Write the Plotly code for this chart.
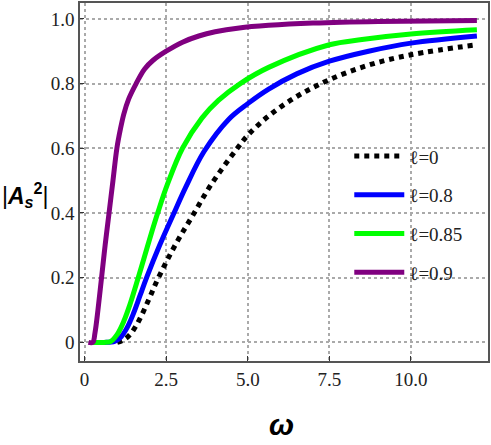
import plotly.graph_objs as go

# curves |A_s^2| vs omega
x_l0 = [1.0, 1.2, 1.4, 1.6, 1.8, 2.0, 2.24, 2.8, 3.3, 3.86, 4.64, 5.0, 5.64, 6.5, 7.5, 8.7, 10.0, 12.02]
y_l0 = [0.0, 0.008, 0.025, 0.055, 0.095, 0.14, 0.195, 0.305, 0.39, 0.485, 0.595, 0.64, 0.7, 0.76, 0.812, 0.857, 0.889, 0.92]

x_l08 = [0.3, 0.6, 0.92, 1.1, 1.3, 1.5, 1.7, 1.9, 2.3, 2.74, 3.1, 3.66, 4.42, 5.0, 5.64, 6.5, 7.5, 8.7, 10.0, 12.02]
y_l08 = [0.0, 0.0, 0.003, 0.015, 0.045, 0.09, 0.145, 0.2, 0.3, 0.4, 0.48, 0.59, 0.69, 0.738, 0.783, 0.83, 0.869, 0.9, 0.925, 0.947]

x_l085 = [0.25, 0.6, 0.8, 1.0, 1.2, 1.4, 1.63, 1.85, 2.07, 2.24, 2.54, 3.0, 3.6, 4.1, 4.77, 5.64, 7.5, 8.5, 10.0, 12.02]
y_l085 = [0.0, 0.0, 0.003, 0.025, 0.065, 0.12, 0.195, 0.27, 0.345, 0.4, 0.489, 0.6, 0.694, 0.748, 0.8, 0.85, 0.92, 0.936, 0.953, 0.966]

x_l09 = [0.12, 0.25, 0.32, 0.41, 0.52, 0.63, 0.75, 0.87, 0.99, 1.1, 1.2, 1.35, 1.58, 1.84, 2.1, 2.5, 3.0, 3.5, 4.0, 4.74, 5.64, 7.0, 9.0, 12.02]
y_l09 = [0.0, 0.0, 0.03, 0.1, 0.2, 0.3, 0.4, 0.5, 0.6, 0.66, 0.705, 0.752, 0.8, 0.845, 0.872, 0.9, 0.928, 0.947, 0.96, 0.972, 0.98, 0.987, 0.992, 0.995]

x_ticks = [0, 2.5, 5.0, 7.5, 10.0]
x_ticktext = ['0', '2.5', '5.0', '7.5', '10.0']
y_ticks = [0, 0.2, 0.4, 0.6, 0.8, 1.0]
y_ticktext = ['0', '0.2', '0.4', '0.6', '0.8', '1.0']

series = [
    ('ℓ=0', x_l0, y_l0, 'black', 'dot'),
    ('ℓ=0.8', x_l08, y_l08, '#0000ff', 'solid'),
    ('ℓ=0.85', x_l085, y_l085, '#00ff00', 'solid'),
    ('ℓ=0.9', x_l09, y_l09, '#800080', 'solid'),
]

fig = go.Figure()
for i, (name, xs, ys, col, dash) in enumerate(series):
    fig.add_trace(go.Scatter(x=xs, y=ys, mode='lines', name=name, legendgroup=str(i),
                             line=dict(color=col, width=5, dash=dash, shape='spline', smoothing=1.0)))

serif = 'Liberation Serif, Times New Roman, serif'
axis_font = dict(family=serif, size=19, color='#222')
fig.update_xaxes(range=[-0.14, 12.36], tickvals=x_ticks, ticktext=x_ticktext,
                 showgrid=True, gridcolor='#aaaaaa', griddash='dot', gridwidth=1.5,
                 showline=True, linecolor='#555', linewidth=1.5, mirror=True,
                 ticks='inside', ticklen=5, tickcolor='#333', tickfont=axis_font,
                 zeroline=False)
fig.update_yaxes(range=[-0.0575, 1.049], tickvals=y_ticks, ticktext=y_ticktext,
                 showgrid=True, gridcolor='#aaaaaa', griddash='dot', gridwidth=1.5,
                 showline=True, linecolor='#555', linewidth=1.5, mirror=True,
                 ticks='inside', ticklen=4, tickcolor='#333', tickfont=axis_font,
                 zeroline=False)

fig.update_layout(
    width=491, height=445,
    margin=dict(l=80, r=1, t=1, b=84),
    plot_bgcolor='white', paper_bgcolor='white',
    font=dict(family=serif),
    legend=dict(x=0.66, y=0.625, xanchor='left', yanchor='top', bgcolor='rgba(0,0,0,0)',
                font=dict(family=serif, size=19, color='#222'),
                tracegroupgap=11, itemwidth=50),
    annotations=[
        dict(text='|<b><i>A</i></b><sub><b><i>s</i></b></sub><sup><b>2</b></sup>|', xref='paper', yref='paper',
             x=-0.134, y=0.463, xanchor='center', yanchor='middle', showarrow=False,
             font=dict(family='Liberation Sans', size=23, color='black')),
        dict(text='<b><i>ω</i></b>', xref='paper', yref='paper', x=0.495, y=-0.178,
             xanchor='center', yanchor='middle', showarrow=False,
             font=dict(family='Liberation Sans', size=30, color='black')),
    ],
)

# drop the default page margin so the figure sits at the window's corner
fig.write_html("out.html", config={'displayModeBar': False},
               post_script="document.body.style.margin='0';")
